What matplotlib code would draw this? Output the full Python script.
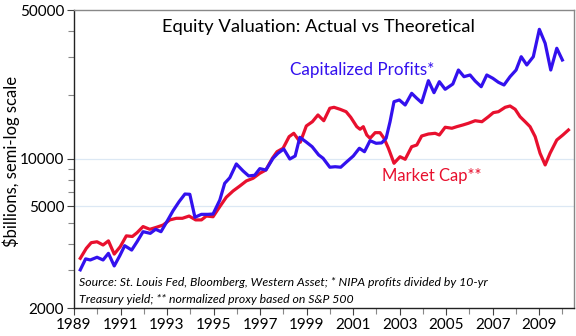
import numpy as np
import matplotlib
matplotlib.use("Agg")
import matplotlib.pyplot as plt
from matplotlib.ticker import FixedLocator, FixedFormatter, NullFormatter

plt.rcParams['font.family'] = ['Lato', 'DejaVu Sans']

# capitalized profits (blue), $bn
cp_years = [1989.27, 1989.50, 1989.70, 1989.99, 1990.25, 1990.48, 1990.73, 1990.97,
            1991.18, 1991.48, 1991.71, 1991.97, 1992.28, 1992.51, 1992.74, 1992.97,
            1993.26, 1993.52, 1993.77, 1993.98, 1994.20, 1994.48, 1994.76, 1994.98,
            1995.27, 1995.48, 1995.70, 1995.98, 1996.27, 1996.51, 1996.77, 1996.99,
            1997.25, 1997.56, 1997.77, 1998.02, 1998.28, 1998.51, 1998.71, 1998.97,
            1999.24, 1999.52, 1999.71, 2000.00, 2000.23, 2000.47, 2000.73, 2001.01,
            2001.27, 2001.49, 2001.73, 2001.99, 2002.23, 2002.42, 2002.59, 2002.76,
            2002.99, 2003.24, 2003.52, 2003.74, 2003.95, 2004.24, 2004.48, 2004.71,
            2004.96, 2005.29, 2005.53, 2005.77, 2006.03, 2006.25, 2006.51, 2006.75,
            2007.01, 2007.25, 2007.49, 2007.75, 2008.01, 2008.23, 2008.47, 2008.75,
            2009.01, 2009.26, 2009.50, 2009.76, 2010.00]
cp_vals = [3020, 3400, 3360, 3460, 3360, 3610, 3150, 3520,
           3920, 3740, 4090, 4560, 4480, 4680, 4560, 5030,
           5720, 6310, 6850, 6830, 5330, 5500, 5500, 5520,
           6420, 7690, 8170, 9480, 8790, 8330, 8390, 9010,
           8880, 10080, 10640, 11140, 10000, 10330, 12640, 12050,
           11420, 10450, 10080, 9150, 9200, 9150, 9710, 10330,
           11230, 10820, 12190, 11850, 11900, 12510, 14960, 18570,
           18920, 17920, 20330, 19260, 18380, 23300, 20470, 23050,
           21230, 22480, 26150, 24330, 24780, 23220, 21830, 24780,
           23910, 22900, 22240, 24330, 26150, 30190, 27610, 30190,
           40580, 34890, 26150, 33070, 29140]

# market cap (red), $bn
mc_years = [1989.27, 1989.53, 1989.74, 1989.99, 1990.25, 1990.48, 1990.73, 1990.99,
            1991.25, 1991.51, 1991.71, 1991.97, 1992.26, 1992.54, 1992.83, 1993.12,
            1993.40, 1993.66, 1993.95, 1994.23, 1994.48, 1994.69, 1994.98, 1995.27,
            1995.55, 1995.84, 1996.13, 1996.41, 1996.70, 1996.99, 1997.25, 1997.53,
            1997.73, 1997.99, 1998.25, 1998.45, 1998.73, 1998.99, 1999.25, 1999.49,
            1999.74, 2000.00, 2000.18, 2000.44, 2000.70, 2000.90, 2001.16, 2001.30,
            2001.44, 2001.59, 2001.73, 2001.95, 2002.16, 2002.33, 2002.52, 2002.76,
            2003.02, 2003.24, 2003.52, 2003.74, 2003.95, 2004.24, 2004.53, 2004.71,
            2004.96, 2005.25, 2005.46, 2005.72, 2005.96, 2006.25, 2006.54, 2006.82,
            2007.03, 2007.25, 2007.54, 2007.75, 2007.97, 2008.18, 2008.40, 2008.61,
            2008.83, 2009.04, 2009.26, 2009.47, 2009.76, 2010.02, 2010.26]
mc_vals = [3420, 3810, 4050, 4090, 3950, 4130, 3580, 3880,
           4360, 4330, 4510, 4820, 4680, 4780, 4900, 5180,
           5270, 5270, 5400, 5180, 5180, 5400, 5360, 5980,
           6620, 7080, 7470, 7890, 8120, 8570, 8880, 10080,
           10820, 11230, 12730, 13200, 11980, 14290, 14960, 16090,
           15120, 17300, 17480, 17110, 16670, 15690, 14180, 13790,
           14180, 12960, 12510, 13290, 13290, 12510, 11230, 9550,
           10250, 9970, 11420, 11630, 12820, 13100, 13200, 12960,
           14090, 13940, 14180, 14440, 14710, 15120, 14960, 15790,
           16500, 16670, 17480, 17730, 17110, 15790, 14960, 14180,
           12730, 10640, 9380, 10640, 12280, 12960, 13680]

x_major = list(range(1989, 2010, 2))
x_minor = list(range(1990, 2011, 2))
# the original axis puts its "5000" label on the 6000 line
y_major = [2000, 6000, 10000, 50000]
y_major_labels = ['2000', '5000', '10000', '50000']
y_minor = [3000, 4000, 5000, 7000, 8000, 9000, 20000, 30000, 40000]

blue = '#3311EE'
red = '#E8102E'

fig = plt.figure(figsize=(5.76, 3.36), dpi=100)
ax = fig.add_axes([74/576, 28/336, 500/576, 298/336])

ax.set_yscale('log')
ax.plot(mc_years, mc_vals, color=red, lw=2.3, solid_joinstyle='round', zorder=3)
ax.plot(cp_years, cp_vals, color=blue, lw=2.3, solid_joinstyle='round', zorder=4)

ax.set_xlim(1989, 2010.5)
ax.set_ylim(2000, 50000)

ax.yaxis.set_major_locator(FixedLocator(y_major))
ax.yaxis.set_major_formatter(FixedFormatter(y_major_labels))
ax.yaxis.set_minor_locator(FixedLocator(y_minor))
ax.yaxis.set_minor_formatter(NullFormatter())
ax.xaxis.set_major_locator(FixedLocator(x_major))
ax.xaxis.set_minor_locator(FixedLocator(x_minor))

for v in [6000, 10000]:
    ax.axhline(v, color='#DCE8F4', lw=0.9, zorder=1)

ax.tick_params(axis='both', which='major', labelsize=11, length=5, width=0.8, color='#444444', pad=2)
ax.tick_params(axis='both', which='minor', length=4, width=0.8, color='#888888')

for s in ['left', 'bottom']:
    ax.spines[s].set_color('#222222')
    ax.spines[s].set_linewidth(1.0)
for s in ['top', 'right']:
    ax.spines[s].set_color('#888888')
    ax.spines[s].set_linewidth(1.0)

ax.text(0.488, 0.943, 'Equity Valuation: Actual vs Theoretical', transform=ax.transAxes,
        ha='center', va='center', fontsize=13.2, color='black')
ax.text(0.577, 0.799, 'Capitalized Profits*', transform=ax.transAxes,
        ha='center', va='center', fontsize=12.3, color=blue)
ax.text(0.716, 0.443, 'Market Cap**', transform=ax.transAxes,
        ha='center', va='center', fontsize=12, color=red)
ax.text(0.01, 0.084, 'Source: St. Louis Fed, Bloomberg, Western Asset; * NIPA profits divided by 10-yr',
        transform=ax.transAxes, ha='left', va='center', fontsize=8.8, style='italic')
ax.text(0.01, 0.027, 'Treasury yield; ** normalized proxy based on S&P 500',
        transform=ax.transAxes, ha='left', va='center', fontsize=8.8, style='italic')

fig.text(11/576, 1 - 161/336, '$billions, semi-log scale', rotation=90,
         ha='center', va='center', fontsize=12)

fig.savefig('out.png', dpi=100)
